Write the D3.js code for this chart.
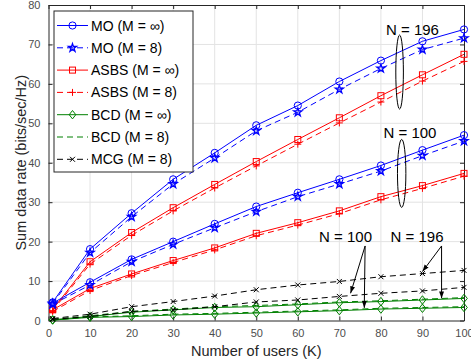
<!DOCTYPE html>
<html>
<head>
<meta charset="utf-8">
<script src="https://cdn.jsdelivr.net/npm/d3@7"></script>
<style>
  body { margin: 0; background: #fff; }
  svg { display: block; font-family: "Liberation Sans", Arial, sans-serif; }
</style>
</head>
<body>
<div id="chart"></div>
<script>
// number of users
const users = [1, 10, 20, 30, 40, 50, 60, 70, 80, 90, 100];

// N = 196
const mo_inf_196   = [4.6, 18.1, 27.2, 35.8, 42.5, 49.5, 54.5, 60.6, 65.9, 70.8, 73.8];
const mo_8_196     = [4.3, 17.2, 26.3, 34.6, 41.2, 48.1, 52.8, 58.6, 63.9, 68.7, 71.6];
const asbs_inf_196 = [2.8, 14.9, 22.3, 28.6, 34.5, 40.3, 45.9, 51.4, 57.0, 62.3, 67.5];
const asbs_8_196   = [2.5, 14.3, 21.6, 27.8, 33.6, 39.2, 44.7, 50.1, 55.4, 60.7, 65.7];
const bcd_inf_196  = [0.2, 1.0, 2.1, 2.7, 3.3, 3.5, 4.0, 4.5, 4.8, 5.2, 5.6];
const bcd_8_196    = [0.3, 1.2, 2.3, 2.9, 3.5, 3.8, 4.2, 4.7, 5.0, 5.4, 5.8];
const mcg_8_196    = [0.5, 1.6, 3.5, 4.8, 6.2, 7.8, 9.0, 9.9, 11.1, 11.9, 12.7];

// N = 100
const mo_inf_100   = [4.4, 9.7, 15.5, 20.0, 24.5, 28.9, 32.4, 35.8, 39.3, 43.2, 47.0];
const mo_8_100     = [4.1, 9.0, 14.9, 19.3, 23.5, 27.6, 31.4, 34.6, 37.9, 41.8, 45.5];
const asbs_inf_100 = [2.7, 8.1, 11.8, 15.2, 18.4, 22.1, 24.8, 27.8, 31.4, 34.2, 37.3];
const asbs_8_100   = [2.3, 7.6, 11.4, 14.7, 17.9, 21.5, 24.2, 27.1, 30.6, 33.5, 36.6];
const bcd_inf_100  = [0.1, 0.8, 1.0, 1.4, 1.6, 1.9, 2.2, 2.5, 2.9, 3.1, 3.3];
const bcd_8_100    = [0.1, 0.9, 1.2, 1.6, 1.8, 2.1, 2.4, 2.7, 3.1, 3.3, 3.5];
const mcg_8_100    = [0.3, 1.0, 2.3, 2.7, 3.5, 4.7, 5.2, 6.1, 6.9, 7.5, 8.4];

const xTicks = d3.range(0, 101, 10);
const yTicks = d3.range(0, 81, 10);

const legendLabels = ['MO (M = \u221e)', 'MO (M = 8)', 'ASBS (M = \u221e)', 'ASBS (M = 8)',
                      'BCD (M = \u221e)', 'BCD (M = 8)', 'MCG (M = 8)'];

// style of each legend entry: colour, dashed, marker
const styles = [
    { c: '#0000ff', dash: false, m: 'circle' },
    { c: '#0000ff', dash: true,  m: 'star' },
    { c: '#ff0000', dash: false, m: 'square' },
    { c: '#ff0000', dash: true,  m: 'plus' },
    { c: '#008000', dash: false, m: 'diamond' },
    { c: '#008000', dash: true,  m: 'none' },
    { c: '#000000', dash: true,  m: 'x' }
];

// curves: [values, style index]
const curves = [
    [bcd_inf_100, 4], [bcd_8_100, 5], [bcd_inf_196, 4], [bcd_8_196, 5],
    [mcg_8_100, 6], [mcg_8_196, 6],
    [asbs_8_100, 3], [asbs_inf_100, 2], [asbs_8_196, 3], [asbs_inf_196, 2],
    [mo_8_100, 1], [mo_inf_100, 0], [mo_8_196, 1], [mo_inf_196, 0]
];

const [width, height] = [471, 364];
const margin = { left: 48.5, right: 7, top: 5, bottom: 43.5 };

const svg = d3.select('#chart').append('svg')
    .attr('width', width)
    .attr('height', height);

const x = d3.scaleLinear().domain([0, 100]).range([margin.left, width - margin.right]);
const y = d3.scaleLinear().domain([0, 80]).range([height - margin.bottom, margin.top]);

const axisCol = '#262626';

// grid
svg.append('g').selectAll('line.gx')
    .data(xTicks.slice(1, -1))
    .join('line')
    .attr('x1', (d) => x(d)).attr('x2', (d) => x(d))
    .attr('y1', y(0)).attr('y2', y(80))
    .attr('stroke', '#e3e3e3').attr('stroke-width', 1);
svg.append('g').selectAll('line.gy')
    .data(yTicks.slice(1, -1))
    .join('line')
    .attr('y1', (d) => y(d)).attr('y2', (d) => y(d))
    .attr('x1', x(0)).attr('x2', x(100))
    .attr('stroke', '#e3e3e3').attr('stroke-width', 1);

// axes
const xAxis = svg.append('g')
    .attr('transform', `translate(0,${y(0)})`)
    .call(d3.axisBottom(x).tickValues(xTicks).tickSizeInner(-4).tickSizeOuter(0).tickPadding(9));
const yAxis = svg.append('g')
    .attr('transform', `translate(${x(0)},0)`)
    .call(d3.axisLeft(y).tickValues(yTicks).tickSizeInner(-4).tickSizeOuter(0).tickPadding(8));
const xTop = svg.append('g')
    .attr('transform', `translate(0,${y(80)})`)
    .call(d3.axisTop(x).tickValues(xTicks).tickSizeInner(-4).tickSizeOuter(0).tickFormat(''));
const yRight = svg.append('g')
    .attr('transform', `translate(${x(100)},0)`)
    .call(d3.axisRight(y).tickValues(yTicks).tickSizeInner(-4).tickSizeOuter(0).tickFormat(''));

[xAxis, yAxis, xTop, yRight].forEach((g) => {
    g.select('.domain').attr('stroke', axisCol);
    g.selectAll('line').attr('stroke', axisCol);
    g.selectAll('text').attr('fill', '#4d4d4d').style('font-size', '11px');
});

// markers
function marker(g, m, col) {
    if (m === 'circle') {
        g.append('circle').attr('r', 3.6).attr('fill', 'none').attr('stroke', col);
    } else if (m === 'star') {
        g.append('path').attr('d', d3.symbol(d3.symbolStar, 20)())
            .attr('fill', 'none').attr('stroke', col).attr('stroke-width', 1.3);
    } else if (m === 'square') {
        g.append('rect').attr('x', -3).attr('y', -3).attr('width', 6).attr('height', 6)
            .attr('fill', 'none').attr('stroke', col);
    } else if (m === 'plus') {
        g.append('path').attr('d', 'M-3.5,0H3.5M0,-3.5V3.5').attr('stroke', col);
    } else if (m === 'diamond') {
        g.append('path').attr('d', 'M0,-4.2L3.3,0L0,4.2L-3.3,0Z')
            .attr('fill', 'none').attr('stroke', col);
    } else if (m === 'x') {
        g.append('path').attr('d', 'M-2.5,-2.5L2.5,2.5M-2.5,2.5L2.5,-2.5').attr('stroke', col);
    }
}

const line = d3.line().x((d) => x(d[0])).y((d) => y(d[1]));

curves.forEach(([vals, si]) => {
    const s = styles[si];
    const pts = users.map((u, i) => [u, vals[i]]);
    svg.append('path')
        .datum(pts)
        .attr('d', line)
        .attr('fill', 'none')
        .attr('stroke', s.c)
        .attr('stroke-width', 1)
        .attr('stroke-dasharray', s.dash ? '6,4' : null);
    pts.forEach((p) => {
        const g = svg.append('g').attr('transform', `translate(${x(p[0])},${y(p[1])})`);
        marker(g, s.m, s.c);
    });
});

// annotations: ellipses
const ann = svg.append('g').attr('fill', 'none').attr('stroke', '#000');
ann.append('ellipse').attr('cx', x(84.5)).attr('cy', y(63)).attr('rx', 3.8).attr('ry', 37);
ann.append('ellipse').attr('cx', x(85)).attr('cy', y(37.3)).attr('rx', 4.2).attr('ry', 34);

const annText = svg.append('g').style('font-size', '15px').attr('fill', '#000');
annText.append('text').attr('x', x(87.6)).attr('y', y(72.4)).attr('text-anchor', 'middle').text('N = 196');
annText.append('text').attr('x', x(87)).attr('y', y(46.4)).attr('text-anchor', 'middle').text('N = 100');
annText.append('text').attr('x', x(71.5)).attr('y', y(19.8)).attr('text-anchor', 'middle').text('N = 100');
annText.append('text').attr('x', x(88.7)).attr('y', y(19.8)).attr('text-anchor', 'middle').text('N = 196');

// arrows
svg.append('defs').append('marker')
    .attr('id', 'ah').attr('viewBox', '0 0 10 10')
    .attr('refX', 10).attr('refY', 5)
    .attr('markerWidth', 7).attr('markerHeight', 7)
    .attr('orient', 'auto-start-reverse')
    .append('path').attr('d', 'M0,1.5L10,5L0,8.5Z').attr('fill', '#000');

const arrows = [
    [[76.2, 18.9], [72.7, 6.9]],
    [[76.2, 18.9], [76.0, 3.2]],
    [[94.6, 18.9], [90.0, 12.4]],
    [[94.6, 18.9], [94.6, 5.6]]
];
svg.append('g').selectAll('line')
    .data(arrows)
    .join('line')
    .attr('x1', (d) => x(d[0][0])).attr('y1', (d) => y(d[0][1]))
    .attr('x2', (d) => x(d[1][0])).attr('y2', (d) => y(d[1][1]))
    .attr('stroke', '#000').attr('stroke-width', 1)
    .attr('marker-end', 'url(#ah)');

// legend
const lg = svg.append('g');
lg.append('rect')
    .attr('x', 54).attr('y', 11).attr('width', 139).attr('height', 161)
    .attr('fill', '#fff').attr('stroke', axisCol);
legendLabels.forEach((lab, i) => {
    const s = styles[i];
    const yy = 25.5 + i * 22.3;
    lg.append('line')
        .attr('x1', 57).attr('x2', 88).attr('y1', yy).attr('y2', yy)
        .attr('stroke', s.c).attr('stroke-width', 1)
        .attr('stroke-dasharray', s.dash ? '6,4' : null);
    marker(lg.append('g').attr('transform', `translate(72.5,${yy})`), s.m, s.c);
    lg.append('text')
        .attr('x', 91).attr('y', yy + 5)
        .style('font-size', '14px').attr('fill', '#000')
        .text(lab);
});

// axis labels
svg.append('text')
    .attr('x', (x(0) + x(100)) / 2).attr('y', 356)
    .attr('text-anchor', 'middle')
    .style('font-size', '14.5px').attr('fill', '#262626')
    .text('Number of users (K)');
svg.append('text')
    .attr('transform', `translate(26,${(y(0) + y(80)) / 2}) rotate(-90)`)
    .attr('text-anchor', 'middle')
    .style('font-size', '14.5px').attr('fill', '#262626')
    .text('Sum data rate (bits/sec/Hz)');
</script>
</body>
</html>
